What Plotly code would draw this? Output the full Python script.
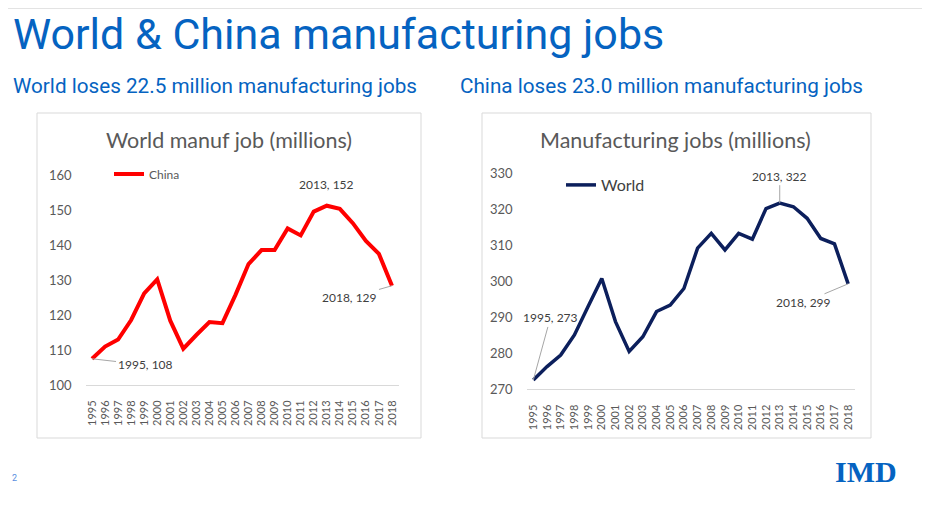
import plotly.graph_objects as go

years = [str(y) for y in range(1995, 2019)]

china_jobs = [107.5, 111.0, 113.0, 118.6, 126.2, 130.2, 118.4, 110.4, 114.3, 118.0,
              117.7, 125.8, 134.6, 138.6, 138.6, 144.8, 142.8, 149.6, 151.3, 150.4,
              146.3, 141.2, 137.5, 128.4]

world_jobs = [272.6, 276.3, 279.5, 285.1, 293.0, 300.8, 288.8, 280.5, 284.6, 291.6,
              293.4, 298.0, 309.2, 313.3, 308.7, 313.3, 311.7, 320.2, 321.7, 320.7,
              317.5, 311.9, 310.4, 299.3]

china_ticks = [100, 110, 120, 130, 140, 150, 160]
world_ticks = [270, 280, 290, 300, 310, 320, 330]

W, H = 930, 531
OFF = 8  # page body margin around the plot div
BLUE = '#0563C1'
GREY = '#595959'
DARK = '#404040'
CHART_FONT = 'Lato'
SLIDE_FONT = 'Roboto'


def px(x):
    return (x - OFF) / W


def py(y):
    return 1 - (y - OFF) / H


fig = go.Figure()

fig.add_trace(go.Scatter(x=years, y=china_jobs, mode='lines', name='China',
                         line=dict(color='#FF0000', width=4),
                         xaxis='x', yaxis='y', legend='legend'))
fig.add_trace(go.Scatter(x=years, y=world_jobs, mode='lines', name='World',
                         line=dict(color='#0C1F5C', width=3.5),
                         xaxis='x2', yaxis='y2', legend='legend2'))

xaxis_common = dict(type='category', range=[-0.5, 23.5], showgrid=False,
                    showline=True, linecolor='#D9D9D9', linewidth=1,
                    ticks='', tickangle=-90, ticklabelstandoff=10,
                    tickfont=dict(family=CHART_FONT, size=11, color=GREY),
                    fixedrange=True)
yaxis_common = dict(showgrid=False, zeroline=False, showline=False, ticks='',
                    ticklabelstandoff=13,
                    tickfont=dict(family=CHART_FONT, size=13, color=GREY),
                    fixedrange=True)

label_font = dict(family=CHART_FONT, size=12, color=DARK)


def paper_text(text, x, y, size, color, family, xanchor='center', yanchor='middle'):
    fig.add_annotation(text=text, x=px(x), y=py(y), xref='paper', yref='paper',
                       showarrow=False, xanchor=xanchor, yanchor=yanchor, borderpad=0,
                       font=dict(family=family, size=size, color=color))


# slide texts
paper_text('World & China manufacturing jobs', 12, 8, 43, BLUE, SLIDE_FONT,
           xanchor='left', yanchor='top')
paper_text('World loses 22.5 million manufacturing jobs', 12, 86, 20.7, BLUE, SLIDE_FONT,
           xanchor='left')
paper_text('China loses 23.0 million manufacturing jobs', 459, 86, 20.7, BLUE, SLIDE_FONT,
           xanchor='left')
paper_text('World manuf job (millions)', 229, 140, 21.5, GREY, CHART_FONT)
paper_text('Manufacturing jobs (millions)', 675, 140, 21.5, GREY, CHART_FONT)
paper_text('2', 14, 478, 9, '#5B8FE0', SLIDE_FONT)
paper_text('<b>IMD</b>', 866, 471, 30, BLUE, 'Liberation Serif')

# data callouts
callout = dict(showarrow=True, arrowhead=0, arrowwidth=1, arrowcolor='#A6A6A6',
               font=label_font)
fig.add_annotation(text=f'{years[0]}, {round(china_jobs[0])}', x=0, y=china_jobs[0],
                   xref='x', yref='y', ax=53, ay=6, **callout)
fig.add_annotation(text=f'{years[18]}, {round(china_jobs[18] + 0.5)}', x=18, y=china_jobs[18],
                   xref='x', yref='y', showarrow=False, yshift=21, font=label_font)
fig.add_annotation(text=f'{years[23]}, {round(china_jobs[23] + 0.5)}', x=23, y=china_jobs[23],
                   xref='x', yref='y', ax=-42, ay=12, **callout)
fig.add_annotation(text=f'{years[0]}, {round(world_jobs[0])}', x=0, y=world_jobs[0],
                   xref='x2', yref='y2', ax=17, ay=-62, **callout)
fig.add_annotation(text=f'{years[18]}, {round(world_jobs[18])}', x=18, y=world_jobs[18],
                   xref='x2', yref='y2', ax=0, ay=-27, **callout)
fig.add_annotation(text=f'{years[23]}, {round(world_jobs[23])}', x=23, y=world_jobs[23],
                   xref='x2', yref='y2', ax=-45, ay=19, **callout)

shapes = [
    dict(type='line', xref='paper', yref='paper', x0=0, x1=1, y0=py(8.5), y1=py(8.5),
         line=dict(color='#E3E3E3', width=1)),
    dict(type='rect', xref='paper', yref='paper', x0=px(37), x1=px(421),
         y0=py(438), y1=py(113), line=dict(color='#D9D9D9', width=1)),
    dict(type='rect', xref='paper', yref='paper', x0=px(482), x1=px(871),
         y0=py(438), y1=py(113), line=dict(color='#D9D9D9', width=1)),
]

fig.update_layout(
    width=W, height=H,
    margin=dict(l=0, r=0, t=0, b=0, autoexpand=False),
    paper_bgcolor='white', plot_bgcolor='rgba(0,0,0,0)',
    xaxis=dict(domain=[px(85.5), px(398.5)], anchor='y', **xaxis_common),
    yaxis=dict(domain=[py(385), py(175.3)], anchor='x', range=[100, 160],
               tickvals=china_ticks, **yaxis_common),
    xaxis2=dict(domain=[px(526.5), px(855)], anchor='y2', **xaxis_common),
    yaxis2=dict(domain=[py(389.3), py(173.3)], anchor='x2', range=[270, 330],
                tickvals=world_ticks, **yaxis_common),
    legend=dict(x=px(109), y=py(174), xanchor='left', yanchor='middle',
                bgcolor='rgba(0,0,0,0)',
                font=dict(family=CHART_FONT, size=12, color=GREY)),
    legend2=dict(x=px(561), y=py(185), xanchor='left', yanchor='middle',
                 bgcolor='rgba(0,0,0,0)',
                 font=dict(family=CHART_FONT, size=16, color=DARK)),
    shapes=shapes,
    showlegend=True,
)

fig.write_html('out.html')
